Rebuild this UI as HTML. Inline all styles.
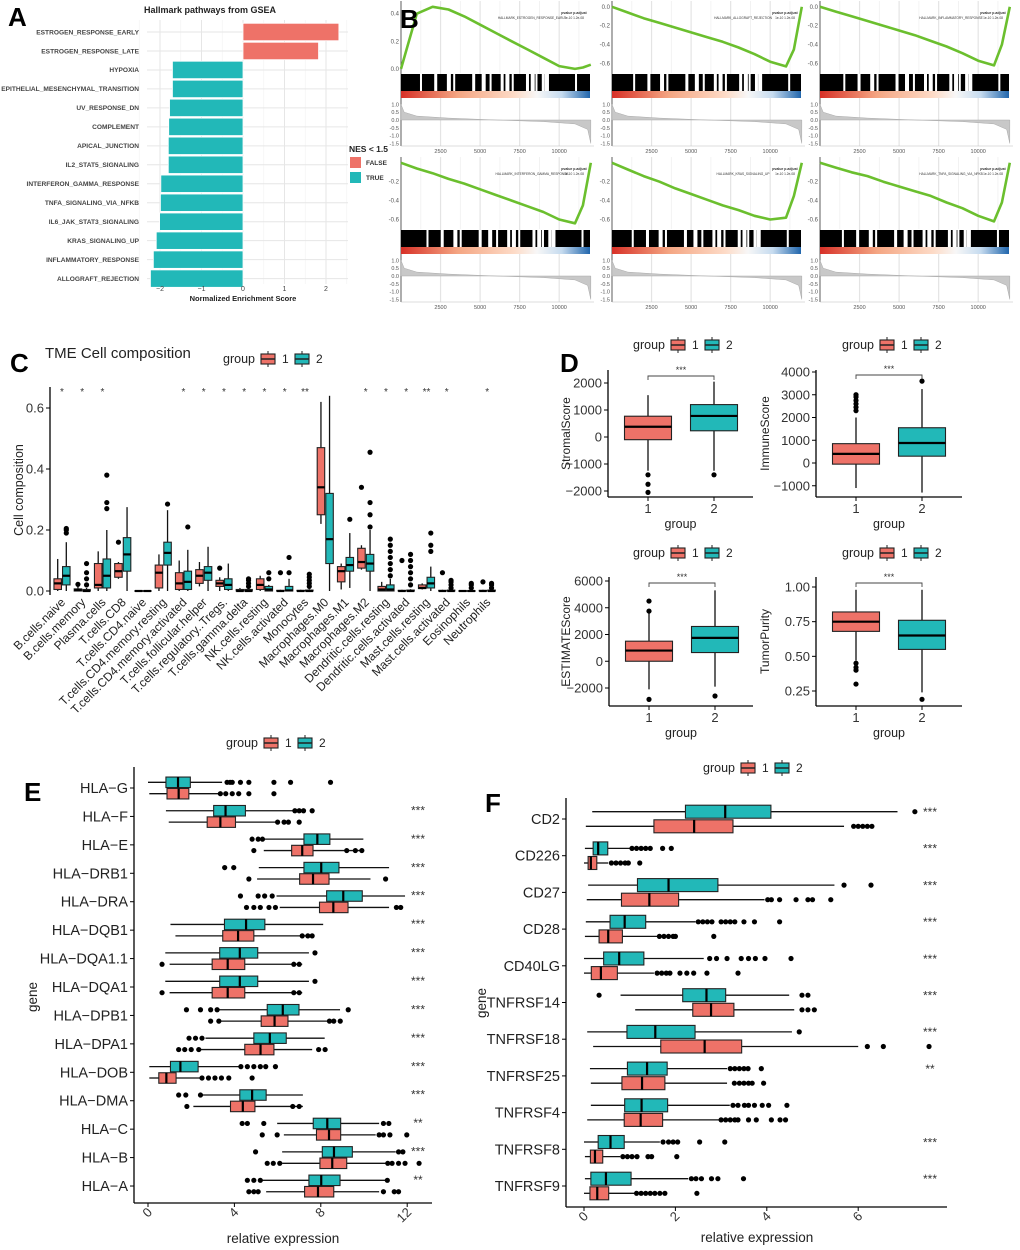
<!DOCTYPE html>
<html><head><meta charset="utf-8"><style>
html,body{margin:0;padding:0;background:#fff}
svg{display:block;font-family:"Liberation Sans",Arial,sans-serif}
</style></head><body>
<svg id="fig" xmlns="http://www.w3.org/2000/svg" width="1020" height="1250" viewBox="0 0 1020 1250"></svg>
<script>
// ---------- Panel A data ----------
const aCats=['ESTROGEN_RESPONSE_EARLY','ESTROGEN_RESPONSE_LATE','HYPOXIA','EPITHELIAL_MESENCHYMAL_TRANSITION','UV_RESPONSE_DN','COMPLEMENT','APICAL_JUNCTION','IL2_STAT5_SIGNALING','INTERFERON_GAMMA_RESPONSE','TNFA_SIGNALING_VIA_NFKB','IL6_JAK_STAT3_SIGNALING','KRAS_SIGNALING_UP','INFLAMMATORY_RESPONSE','ALLOGRAFT_REJECTION'];
const aNES=[2.31,1.82,-1.70,-1.70,-1.77,-1.79,-1.80,-1.80,-1.98,-1.99,-2.01,-2.09,-2.16,-2.23];
const aTicks=[-2,-1,0,1,2];
// ---------- Panel B data ----------
const bNames=['HALLMARK_ESTROGEN_RESPONSE_EARLY','HALLMARK_ALLOGRAFT_REJECTION','HALLMARK_INFLAMMATORY_RESPONSE','HALLMARK_INTERFERON_GAMMA_RESPONSE','HALLMARK_KRAS_SIGNALING_UP','HALLMARK_TNFA_SIGNALING_VIA_NFKB'];
const bRanks=[0,1000,2000,3000,4000,5000,6000,7000,8000,9000,10000,11000,11500,12000];
const bES1=[0,0.40,0.45,0.43,0.38,0.32,0.26,0.20,0.14,0.08,0.02,0.0,0.01,0.03];
const bES2=[0,-0.06,-0.12,-0.17,-0.22,-0.27,-0.32,-0.37,-0.43,-0.50,-0.58,-0.63,-0.45,0];
const bES3=[0,-0.05,-0.10,-0.15,-0.20,-0.25,-0.30,-0.36,-0.42,-0.49,-0.57,-0.62,-0.40,0];
const bES4=[0,-0.06,-0.11,-0.17,-0.22,-0.28,-0.34,-0.40,-0.46,-0.52,-0.60,-0.64,-0.45,0];
const bES5=[0,-0.07,-0.14,-0.20,-0.27,-0.33,-0.39,-0.45,-0.50,-0.56,-0.60,-0.58,-0.35,0];
const bES6=[0,-0.05,-0.10,-0.14,-0.20,-0.25,-0.30,-0.35,-0.42,-0.48,-0.56,-0.62,-0.42,0];
const bGaps=[1200,2100,2900,3300,4500,5100,5600,6300,6600,7000,7900,8200,8500,8900,9100,11000];
const bMetricRanks=[0,200,1000,3000,6000,9000,11000,11800,12000];
const bMetric=[1.0,0.5,0.25,0.12,0,-0.1,-0.25,-0.6,-1.5];
const bXTicks=[2500,5000,7500,10000];
// ---------- Panel C data ----------
const cCats=['B.cells.naive','B.cells.memory','Plasma.cells','T.cells.CD8','T.cells.CD4.naive','T.cells.CD4.memory.resting','T.cells.CD4.memory.activated','T.cells.follicular.helper','T.cells.regulatory..Tregs.','T.cells.gamma.delta','NK.cells.resting','NK.cells.activated','Monocytes','Macrophages.M0','Macrophages.M1','Macrophages.M2','Dendritic.cells.resting','Dendritic.cells.activated','Mast.cells.resting','Mast.cells.activated','Eosinophils','Neutrophils'];
const cG1=[[0,0.005,0.025,0.04,0.105],[0,0,0.003,0.007,0.015],[0,0.01,0.02,0.09,0.13],[0.04,0.045,0.065,0.09,0.095],[0,0,0,0.001,0.002],[0,0.01,0.06,0.085,0.12],[0,0.005,0.025,0.06,0.1],[0.015,0.025,0.05,0.07,0.095],[0,0.015,0.025,0.035,0.045],[0,0,0,0.005,0.01],[0,0.005,0.02,0.04,0.05],[0,0,0,0.002,0.004],[0,0,0,0.002,0.004],[0.22,0.25,0.34,0.47,0.62],[0.005,0.03,0.065,0.08,0.09],[0.07,0.075,0.095,0.14,0.15],[0,0,0.005,0.015,0.03],[0,0,0,0.002,0.004],[0.005,0.008,0.01,0.02,0.025],[0,0,0,0.002,0.004],[0,0,0,0.001,0.002],[0,0,0,0.002,0.004]];
const cG2=[[0,0.02,0.05,0.08,0.16],[0,0,0,0.005,0.01],[0,0.01,0.05,0.105,0.2],[0,0.065,0.12,0.175,0.275],[0,0,0,0.001,0.002],[0,0.085,0.125,0.16,0.265],[0,0.005,0.03,0.065,0.135],[0,0.035,0.06,0.08,0.145],[0,0.005,0.02,0.04,0.09],[0,0,0,0.005,0.01],[0,0,0.005,0.015,0.02],[0,0,0.002,0.015,0.04],[0,0,0,0.003,0.006],[0,0.09,0.17,0.32,0.64],[0.01,0.065,0.085,0.11,0.19],[0,0.065,0.09,0.12,0.2],[0,0,0.005,0.02,0.04],[0,0,0,0.003,0.006],[0,0.01,0.025,0.045,0.08],[0,0,0,0.003,0.006],[0,0,0,0.001,0.002],[0,0,0,0.003,0.006]];
const cOut1=[[],[0.022],[],[0.16],[],[],[],[],[0.075],[],[],[0.06],[],[],[],[0.34],[],[0.1],[],[0.06],[],[0.03]];
const cOut2=[[0.19,0.2,0.205],[0.02,0.04,0.06,0.09],[0.27,0.29,0.38],[],[],[0.285],[0.21],[],[],[0.015,0.025,0.035,0.04],[0.04,0.06],[0.06,0.11],[0.015,0.025,0.035,0.045,0.055],[],[0.235],[0.21,0.25,0.29,0.455],[0.05,0.07,0.09,0.11,0.13,0.15,0.17],[0.02,0.04,0.06,0.08,0.1,0.12],[0.13,0.15,0.19],[0.01,0.02,0.03,0.035],[0.01,0.02,0.025],[0.01,0.02,0.025]];
const cStars=['*','*','*','','','','*','*','*','*','*','*','**','','','*','*','*','**','*','','*'];
const cTicks=[0,0.2,0.4,0.6];
// ---------- Panel D data ----------
const dNames=['StromalScore','ImmuneScore','ESTIMATEScore','TumorPurity'];
const dG1=[[-1250,-100,380,770,1550],[-1100,-50,400,850,2000],[-2100,0,800,1500,3700],[0.47,0.68,0.75,0.82,0.98]];
const dG2=[[-1250,230,780,1200,2050],[-1300,300,880,1550,3250],[-1900,650,1750,2600,5300],[0.24,0.55,0.65,0.76,0.98]];
const dOut1=[[-1400,-1750,-2050],[2300,2450,2600,2750,2900,3000],[3750,4500,-2850],[0.45,0.42,0.40,0.30]];
const dOut2=[[-1400],[3600],[-2600],[0.19]];
const dTicks=[[2000,1000,0,-1000,-2000],[4000,3000,2000,1000,0,-1000],[6000,4000,2000,0,-2000],[1.00,0.75,0.50,0.25]];
const dTickLabels=[['2000','1000','0','\u22121000','\u22122000'],['4000','3000','2000','1000','0','\u22121000'],['6000','4000','2000','0','\u22122000'],['1.00','0.75','0.50','0.25']];
// ---------- Panel E data ----------
const eGenes=['HLA-G','HLA-F','HLA-E','HLA-DRB1','HLA-DRA','HLA-DQB1','HLA-DQA1.1','HLA-DQA1','HLA-DPB1','HLA-DPA1','HLA-DOB','HLA-DMA','HLA-C','HLA-B','HLA-A'];
const eG2=[[0,0.83,1.39,1.96,3.43],[0.83,3.04,3.59,4.51,6.75],[5.36,7.22,7.84,8.42,9.97],[5.13,7.22,8.02,8.84,11.16],[5.95,8.27,9.04,9.92,11.9],[1.04,3.54,4.54,5.41,8.11],[0.8,3.32,4.25,5.08,7.45],[0.8,3.32,4.25,5.08,7.45],[3.28,5.52,6.24,6.99,8.89],[2.66,4.9,5.64,6.4,8.18],[0.06,1.04,1.5,2.32,4.2],[2.43,4.25,4.82,5.47,7.17],[5.98,7.65,8.3,8.92,10.7],[6.21,8.07,8.61,9.46,11.47],[5.29,7.45,8.02,8.89,11.08]];
const eG1=[[0.06,0.88,1.42,1.89,3.28],[0.96,2.74,3.35,4.05,5.98],[5.36,6.65,7.14,7.64,10.0],[5.05,7.02,7.64,8.38,10.3],[6.1,7.94,8.58,9.26,11.16],[1.27,3.46,4.17,4.9,7.68],[1.0,2.97,3.69,4.48,7.14],[1.0,2.97,3.69,4.48,7.14],[3.35,5.24,5.86,6.48,8.3],[2.43,4.48,5.21,5.83,7.6],[0.06,0.5,0.85,1.3,2.43],[2.1,3.82,4.39,4.95,7.17],[6.29,7.8,8.38,8.92,10.54],[6.21,7.96,8.53,9.2,11.0],[5.47,7.25,7.87,8.6,10.7]];
const eOut2=[[3.66,3.8,3.9,4.28,4.67,5.83,6.6,8.45],[6.8,7.0,7.2,7.6],[4.82,5.1,5.3],[3.55,3.97],[4.28,5.1,5.4,5.75],[],[7.73],[7.73],[1.78,2.43,2.9,3.2,9.27],[1.9,2.2,2.5],[4.3,4.6,4.9,5.2,5.45,5.9],[1.42,1.75,2.43],[4.36,4.6,5.36,10.9,11.15],[4.98,11.6,11.8],[4.6,4.9,5.2,11.08]];
const eOut1=[[3.35,3.6,3.9,4.2,4.67,5.83],[6.0,6.3,6.5,7.0],[4.9,9.2,9.6,9.9],[4.67,11.0],[4.56,4.9,5.2,5.6,5.9,11.5,11.7],[7.14,7.4,7.6],[0.65,6.75,7.0],[0.65,6.75,7.0],[2.9,3.28,8.4,8.6,8.9],[1.42,1.7,2.0,2.35,7.9,8.2],[2.5,2.8,3.1,3.4,3.74,4.82],[1.8,6.7,7.0],[5.29,5.98,10.7,10.9,11.2,11.98],[5.52,5.8,6.1,11.1,11.3,11.6,11.9,12.55],[4.67,4.9,5.1,10.9,11.4,11.6]];
const eStars=['','***','***','***','***','***','***','***','***','***','***','***','**','***','**'];
const eTicks=[0,4,8,12];
// ---------- Panel F data ----------
const fGenes=['CD2','CD226','CD27','CD28','CD40LG','TNFRSF14','TNFRSF18','TNFRSF25','TNFRSF4','TNFRSF8','TNFRSF9'];
const fG2=[[0.18,2.22,3.09,4.09,6.86],[0.02,0.2,0.31,0.52,1.0],[0.09,1.17,1.85,2.93,5.48],[0.04,0.57,0.89,1.35,2.44],[0,0.43,0.77,1.31,2.62],[0.8,2.16,2.68,3.1,4.49],[0.07,0.94,1.56,2.43,4.55],[0.13,0.95,1.38,1.82,3.13],[0.15,0.89,1.26,1.83,3.19],[0,0.31,0.58,0.88,1.66],[0.02,0.15,0.48,1.03,2.28]];
const fG1=[[0.04,1.53,2.41,3.26,5.69],[0,0.09,0.15,0.28,0.53],[0.06,0.82,1.43,2.07,3.95],[0.02,0.33,0.53,0.84,1.6],[0,0.16,0.37,0.73,1.53],[1.12,2.38,2.78,3.28,4.6],[0.2,1.68,2.64,3.45,6.0],[0.15,0.83,1.27,1.77,3.13],[0.07,0.88,1.24,1.72,2.97],[0.02,0.14,0.24,0.41,0.79],[0,0.13,0.29,0.54,1.12]];
const fOut2=[[7.24],[1.05,1.15,1.25,1.35,1.45,1.72,1.91],[5.69,6.28],[2.5,2.6,2.7,2.8,3.0,3.1,3.2,3.3,3.5,3.73,4.28],[2.75,2.9,3.13,3.44,3.6,3.75,3.96,4.53],[0.33,4.77,4.9],[4.71],[3.2,3.3,3.4,3.5,3.59,3.88],[3.26,3.37,3.51,3.6,3.73,3.9,4.04,4.44],[1.73,1.85,1.95,2.05,2.53,3.08],[2.35,2.45,2.57,2.79,2.93,3.49]];
const fOut1=[[5.9,6.0,6.1,6.2,6.3],[0.6,0.7,0.8,0.9,0.97,1.22],[4.02,4.1,4.28,4.64,4.9,5.0,5.4],[1.65,1.75,1.85,1.95,2.0,2.84],[1.6,1.7,1.8,1.88,2.1,2.25,2.4,2.69,3.37],[4.77,4.9,5.04],[6.2,6.55,7.55],[3.29,3.4,3.5,3.6,3.68,3.93],[3.0,3.1,3.2,3.3,3.37,3.6,3.77,4.1,4.29,4.41],[0.85,0.95,1.05,1.16,1.4,1.48,2.03],[1.15,1.25,1.35,1.45,1.55,1.66,1.77,2.47]];
const fStars=['***','***','***','***','***','***','***','**','','***','***'];
const fTicks=[0,2,4,6];

// ---------- helpers ----------
const NS='http://www.w3.org/2000/svg';
const svg=document.getElementById('fig');
const RED='#EE7268', TEAL='#22B8B8';
function mk(tag,attrs,parent){const e=document.createElementNS(NS,tag);for(const k in attrs)e.setAttribute(k,attrs[k]);(parent||svg).appendChild(e);return e;}
function grp(name){const g=mk('g',{});


return g;}
function txt(p,x,y,s,size,anchor,extra){const t=mk('text',Object.assign({x:x,y:y,'font-size':size,'text-anchor':anchor||'start',fill:'#222'},extra||{}),p);t.textContent=s;return t;}
function lin(p,x1,y1,x2,y2,stroke,w){return mk('line',{x1:x1,y1:y1,x2:x2,y2:y2,stroke:stroke||'#222','stroke-width':w||1},p);}
function vbox(p,cx,w,st,ys,fill,outs){
  lin(p,cx,ys(st[0]),cx,ys(st[1]),'#111',1.3);lin(p,cx,ys(st[3]),cx,ys(st[4]),'#111',1.3);
  const r=mk('rect',{x:cx-w/2,y:ys(st[3]),width:w,height:Math.max(0.6,ys(st[1])-ys(st[3])),fill:fill,stroke:'#222','stroke-width':1.1},p);
  lin(p,cx-w/2,ys(st[2]),cx+w/2,ys(st[2]),'#000',2.2);
  outs.forEach(v=>mk('circle',{cx:cx,cy:ys(v),r:2.6,fill:'#000'},p));
  return r;}
function hbox(p,cy,h,st,xs,fill,outs){
  lin(p,xs(st[0]),cy,xs(st[1]),cy,'#111',1.3);lin(p,xs(st[3]),cy,xs(st[4]),cy,'#111',1.3);
  const r=mk('rect',{x:xs(st[1]),y:cy-h/2,width:Math.max(0.6,xs(st[3])-xs(st[1])),height:h,fill:fill,stroke:'#222','stroke-width':1.1},p);
  lin(p,xs(st[2]),cy-h/2,xs(st[2]),cy+h/2,'#000',2.2);
  outs.forEach(v=>mk('circle',{cx:xs(v),cy:cy,r:2.6,fill:'#000'},p));
  return r;}
function legend(x,y,name){const g=grp(name);
  txt(g,x,y+4,'group',12.5);
  [[RED,'1',x+38],[TEAL,'2',x+72]].forEach(k=>{
    lin(g,k[2]+7,y-8,k[2]+7,y+8,'#222',1);
    const r=mk('rect',{x:k[2],y:y-5,width:14,height:10,fill:k[0],stroke:'#222','stroke-width':1.1},g);
    
    
    lin(g,k[2],y,k[2]+14,y,'#222',1.5);
    txt(g,k[2]+21,y+4,k[1],12);});
  return g;}
function letter(s,x,y){const t=txt(svg,x,y,s,26,'start',{'font-weight':'bold',fill:'#000'});

}

// ---------- Panel A ----------
(function(){
  const g=grp('panel-a-nes-bar-chart');
  const xs=v=>243+v*41.5, ys=i=>32+i*18.97;
  mk('rect',{x:147,y:20,width:201,height:264,fill:'#fff'},g);
  [-2.5,-1.5,-0.5,0.5,1.5,2.5].forEach(v=>lin(g,xs(v),20,xs(v),284,'#f2f2f2',0.6));
  aTicks.forEach(v=>lin(g,xs(v),20,xs(v),284,'#e6e6e6',1));
  aCats.forEach((c,i)=>lin(g,147,ys(i),348,ys(i),'#e6e6e6',1));
  const tt=txt(g,210,13,'Hallmark pathways from GSEA',9,'middle',{'font-weight':'bold'});
  
  aCats.forEach((c,i)=>{
    const v=aNES[i];
    const b=mk('rect',{x:Math.min(xs(0),xs(v)),y:ys(i)-8.7,width:Math.abs(xs(v)-xs(0)),height:17.4,fill:v>1.5?RED:TEAL,stroke:'#fff','stroke-width':0.8},g);
    
    
    txt(g,139,ys(i)+2.3,c,6.6,'end',{'font-weight':'bold',fill:'#444'});
  });
  aTicks.forEach(v=>txt(g,xs(v),291,v<0?'\u2212'+Math.abs(v):String(v),7,'middle',{fill:'#444'}));
  txt(g,243,301,'Normalized Enrichment Score',7.5,'middle',{'font-weight':'bold'});
  txt(g,349,152,'NES < 1.5',8.5,'start',{'font-weight':'bold'});
  mk('rect',{x:350,y:157,width:11,height:11,fill:RED},g);
  mk('rect',{x:350,y:172,width:11,height:11,fill:TEAL},g);
  txt(g,366,165,'FALSE',6.5,'start',{'font-weight':'bold',fill:'#333'});
  txt(g,366,180,'TRUE',6.5,'start',{'font-weight':'bold',fill:'#333'});
})();
letter('A',8,26);

// ---------- Panel B ----------
(function(){
  const all=[bES1,bES2,bES3,bES4,bES5,bES6];
  const cols=[401,612,820];
  all.forEach((es,i)=>{
    const g=grp('gsea-plot-'+(i+1));
    const px=cols[i%3], py=Math.floor(i/3)*156+1, W=193;
    const xs=r=>px+r/12200*W;
    const dom=i===0?[-0.03,0.47]:[-0.7,0.03];
    const ys=v=>py+72-(v-dom[0])/(dom[1]-dom[0])*69;
    bXTicks.forEach(t=>lin(g,xs(t),py,xs(t),py+145,'#e4e4e4',1.2));
    [1250,3750,6250,8750,11250].forEach(t=>lin(g,xs(t),py,xs(t),py+72,'#f0f0f0',0.8));
    lin(g,px,py,px,py+145,'#333',0.8);
    lin(g,px,py+145,px+W,py+145,'#bbb',0.6);
    const pts=bRanks.map((r,k)=>xs(r).toFixed(1)+','+ys(es[k]).toFixed(1)).join(' ');
    const pl=mk('polyline',{points:pts,fill:'none',stroke:'#6BBF2E','stroke-width':2.6,'stroke-linejoin':'round'},g);
    
    
    const tks=i===0?[0.4,0.2,0.0]:(i<3?[0.0,-0.2,-0.4,-0.6]:[-0.2,-0.4,-0.6]);
    tks.forEach(t=>txt(g,px-2,ys(t)+2,t.toFixed(1),6,'end',{fill:'#555'}));
    mk('rect',{x:px,y:py+73,width:W-4,height:17,fill:'#000'},g);
    bGaps.forEach((r,k)=>mk('rect',{x:xs(r+(i*137)%500),y:py+73,width:2+(k%3),height:17,fill:'#fff'},g));
    const gid='gr'+i;
    const lg=mk('linearGradient',{id:gid,x1:0,x2:1,y1:0,y2:0},mk('defs',{},g));
    [['0','#D73027'],['0.3','#F4A582'],['0.6','#FDDBC7'],['0.72','#F7F7F7'],['0.85','#C6DBEF'],['1','#2166AC']].forEach(s=>mk('stop',{offset:s[0],'stop-color':s[1]},lg));
    mk('rect',{x:px,y:py+90,width:W-4,height:7,fill:'url(#'+gid+')'},g);
    const ym=v=>py+119-v*15.6;
    const mp=bMetricRanks.map((r,k)=>xs(r).toFixed(1)+','+ym(bMetric[k]).toFixed(1));
    mk('polygon',{points:xs(0)+','+ym(0)+' '+mp.join(' ')+' '+xs(12000)+','+ym(0),fill:'#c8c8c8',stroke:'#aaa','stroke-width':0.5},g);
    [1.0,0.5,0.0,-0.5,-1.0,-1.5].forEach(t=>txt(g,px-2,ym(t)+2,t.toFixed(1),5.5,'end',{fill:'#555'}));
    bXTicks.forEach(t=>txt(g,xs(t),py+152,String(t),5.5,'middle',{fill:'#555'}));
    txt(g,px+W-20,py+13,'pvalue  p.adjust',3.5,'middle',{fill:'#333','font-weight':'bold'});
    txt(g,px+W-62,py+18,bNames[i],3.2,'middle',{fill:'#333'});
    txt(g,px+W-20,py+18,'1e-10   1.2e-08',3.2,'middle',{fill:'#333'});
  });
})();
letter('B',400,28);

// ---------- Panel C ----------
(function(){
  const g=grp('panel-c-tme-boxplot');
  const ys=v=>591-v*305;
  const cx=i=>62+i*20.25;
  lin(g,50,387,50,595,'#000',1.3);
  cTicks.forEach(t=>{lin(g,46,ys(t),50,ys(t),'#000',1);txt(g,44,ys(t)+4.5,t.toFixed(1),13,'end',{fill:'#333'});});
  const yt=txt(g,23,490,'Cell composition',12.5,'middle',{transform:'rotate(-90 23 490)'});
  
  txt(g,45,358,'TME Cell composition',15,'start');
  cCats.forEach((c,i)=>{
    const b1=vbox(g,cx(i)-4.3,7.5,cG1[i],ys,RED,cOut1[i]);
    
    
    const b2=vbox(g,cx(i)+4.3,7.5,cG2[i],ys,TEAL,cOut2[i]);
    
    
    if(cStars[i])txt(g,cx(i),395,cStars[i],10,'middle',{fill:'#333'});
    txt(g,cx(i)+4,603,c,12,'end',{transform:'rotate(-45 '+(cx(i)+4)+' 603)',fill:'#222'});
  });
})();
letter('C',10,372);
legend(223,359,'panel-c-legend');

// ---------- Panel D ----------
(function(){
  const L=[{ax:608,right:753,top:370,bot:497,vA:2000,yA:383,vB:-2000,yB:491,tx:570,br:376},
           {ax:816,right:962,top:370,bot:497,vA:4000,yA:372,vB:0,yB:463,tx:769,br:375},
           {ax:609,right:753,top:577,bot:706,vA:6000,yA:581,vB:-2000,yB:688,tx:570,br:583},
           {ax:816,right:962,top:577,bot:706,vA:1.0,yA:587,vB:0.25,yB:691,tx:769,br:583}];
  L.forEach((l,i)=>{
    const g=grp('panel-d-'+dNames[i].toLowerCase());
    const ys=v=>l.yA+(v-l.vA)/(l.vB-l.vA)*(l.yB-l.yA);
    lin(g,l.ax,l.top,l.ax,l.bot,'#000',1.3);lin(g,l.ax,l.bot,l.right,l.bot,'#000',1.3);
    dTicks[i].forEach((t,k)=>{lin(g,l.ax-4,ys(t),l.ax,ys(t),'#000',1);txt(g,l.ax-6,ys(t)+4.5,dTickLabels[i][k],13,'end',{fill:'#333'});});
    const c1=l.ax+40,c2=l.ax+106;
    const b1=vbox(g,c1,47,dG1[i],ys,RED,dOut1[i]);
    
    
    const b2=vbox(g,c2,47,dG2[i],ys,TEAL,dOut2[i]);
    
    
    mk('polyline',{points:c1+','+(l.br+4)+' '+c1+','+l.br+' '+c2+','+l.br+' '+c2+','+(l.br+4),fill:'none',stroke:'#444','stroke-width':0.9},g);
    txt(g,(c1+c2)/2,l.br-3,'***',9,'middle',{fill:'#333'});
    lin(g,c1,l.bot,c1,l.bot+4,'#000',1);lin(g,c2,l.bot,c2,l.bot+4,'#000',1);
    txt(g,c1,l.bot+16,'1',13,'middle',{fill:'#333'});txt(g,c2,l.bot+16,'2',13,'middle',{fill:'#333'});
    txt(g,(l.ax+l.right)/2,l.bot+31,'group',12.5,'middle');
    txt(g,l.tx,(l.top+l.bot)/2,dNames[i],12,'middle',{transform:'rotate(-90 '+l.tx+' '+((l.top+l.bot)/2)+')'});
  });
})();
letter('D',560,372);
legend(633,345,'panel-d-legend-1');legend(842,345,'panel-d-legend-2');
legend(633,553,'panel-d-legend-3');legend(842,553,'panel-d-legend-4');

// ---------- Panel E ----------
(function(){
  const g=grp('panel-e-hla-boxplot');
  const xs=v=>148+v*21.6, ys=i=>788+i*28.43;
  lin(g,134,767,134,1203,'#000',1.3);lin(g,134,1203,432,1203,'#000',1.3);
  eTicks.forEach(t=>{lin(g,xs(t),1203,xs(t),1207,'#000',1);txt(g,xs(t)+5,1213,String(t),13,'end',{transform:'rotate(-45 '+(xs(t)+5)+' 1213)',fill:'#333'});});
  eGenes.forEach((n,i)=>{
    lin(g,130,ys(i),134,ys(i),'#000',1);
    txt(g,128,ys(i)+5,n.replace('-','\u2212'),14.5,'end');
    const b2=hbox(g,ys(i)-5.7,10.5,eG2[i],xs,TEAL,eOut2[i]);
    
    
    const b1=hbox(g,ys(i)+5.7,10.5,eG1[i],xs,RED,eOut1[i]);
    
    
    if(eStars[i])txt(g,418,ys(i)-2,eStars[i],12,'middle',{fill:'#333'});
  });
  txt(g,283,1243,'relative expression',13.5,'middle');
  txt(g,37,997,'gene',13.5,'middle',{transform:'rotate(-90 37 997)'});
})();
letter('E',24,801);
legend(226,743,'panel-e-legend');

// ---------- Panel F ----------
(function(){
  const g=grp('panel-f-tnfrsf-boxplot');
  const xs=v=>584+v*45.7, ys=i=>819+i*36.7;
  lin(g,566,798,566,1207,'#000',1.3);lin(g,566,1207,947,1207,'#000',1.3);
  fTicks.forEach(t=>{lin(g,xs(t),1207,xs(t),1211,'#000',1);txt(g,xs(t)+5,1217,String(t),13,'end',{transform:'rotate(-45 '+(xs(t)+5)+' 1217)',fill:'#333'});});
  fGenes.forEach((n,i)=>{
    lin(g,562,ys(i),566,ys(i),'#000',1);
    txt(g,560,ys(i)+5,n,14.5,'end');
    const b2=hbox(g,ys(i)-7.3,13,fG2[i],xs,TEAL,fOut2[i]);
    
    
    const b1=hbox(g,ys(i)+7.3,13,fG1[i],xs,RED,fOut1[i]);
    
    
    if(fStars[i])txt(g,930,ys(i)-3,fStars[i],12,'middle',{fill:'#333'});
  });
  txt(g,757,1242,'relative expression',13.5,'middle');
  txt(g,486,1003,'gene',13.5,'middle',{transform:'rotate(-90 486 1003)'});
})();
letter('F',485,812);
legend(703,768,'panel-f-legend');
</script>
</body></html>
